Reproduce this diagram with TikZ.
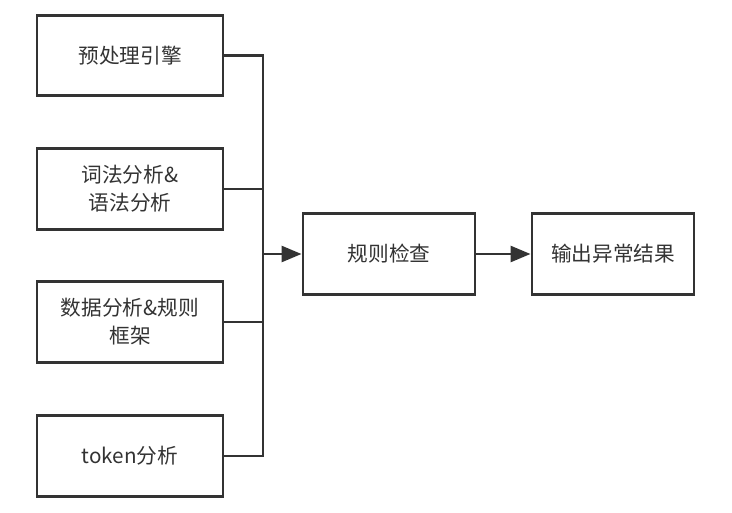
\documentclass[tikz,border=0pt]{standalone}
\usepackage{fontspec}
\setmainfont{Noto Sans CJK SC}
\usetikzlibrary{arrows.meta}
\definecolor{ln}{HTML}{333333}
\begin{document}
\begin{tikzpicture}[x=0.75pt,y=-0.75pt,
  box/.style={draw=ln,line width=2.2pt,fill=white,minimum height=60.5pt,align=center,
    font=\fontsize{15.5pt}{21pt}\selectfont,text=ln,inner sep=0pt},
  conn/.style={draw=ln,line width=2pt},
  arr/.style={conn,-{Triangle[length=15pt,width=12pt]}}]
\useasboundingbox (0,0) rectangle (732,513);
\node[box,minimum width=139.5pt] (a) at (130,55.5) {预处理引擎};
\node[box,minimum width=139.5pt] (b) at (130,189) {词法分析\&\\语法分析};
\node[box,minimum width=139.5pt] (c) at (130,322) {数据分析\&规则\\框架};
\node[box,minimum width=139.5pt] (d) at (130,456) {token分析};
\node[box,minimum width=129pt] (e) at (389,254) {规则检查};
\node[box,minimum width=121.5pt] (f) at (613,254) {输出异常结果};
\coordinate (top) at (263,55.5);
\coordinate (bot) at (263,456);
\coordinate (mid) at (263,254);
\draw[conn] (a.east) -- (top) -- (bot) -- (d.east);
\draw[conn] (b.east) -- (263,189);
\draw[conn] (c.east) -- (263,322);
\draw[arr] (mid) -- (e.west);
\draw[arr] (e.east) -- (f.west);
\end{tikzpicture}
\end{document}
